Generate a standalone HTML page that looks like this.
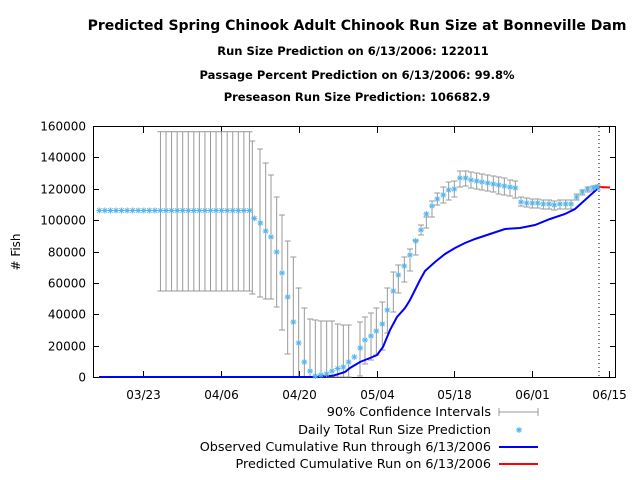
<!DOCTYPE html>
<html><head><meta charset="utf-8"><style>
body{margin:0;background:#fff}
svg{display:block}
text{font-family:"DejaVu Sans","Liberation Sans",sans-serif;fill:#000}
</style></head><body>
<svg id="s" width="640" height="480" xmlns="http://www.w3.org/2000/svg">
<g font-weight="bold" text-anchor="middle">
<text x="357" y="30" font-size="14">Predicted Spring Chinook Adult Chinook Run Size at Bonneville Dam</text>
<text x="353" y="55" font-size="11.5">Run Size Prediction on 6/13/2006: 122011</text>
<text x="357" y="79" font-size="11.5">Passage Percent Prediction on 6/13/2006: 99.8%</text>
<text x="357" y="101" font-size="11.5">Preseason Run Size Prediction: 106682.9</text>
</g>
<text transform="translate(20,252) rotate(-90)" font-size="12" text-anchor="middle"># Fish</text>
<g id="ax"></g>
<g id="eb" stroke="#999" stroke-width="1" fill="none"></g>
<polyline fill="none" stroke="#0000ff" stroke-width="2" points="99,377 300,377 313,377 333,375.7 345,372 350,368 360,362 370,358 377,355 383,347 390,330 397,317 405,308 410,300 415,290 420,280 425,271 435,262 445,254 455,248 465,243 475,239 490,234 505,229 520,228 535,225 550,219 565,214 575,209 585,200 595,191 599,187"/>
<line x1="599" y1="187" x2="610" y2="187.5" stroke="#ff0000" stroke-width="2"/>
<line x1="599" y1="127" x2="599" y2="377" stroke="#000" stroke-dasharray="1,3"/>
<g id="st" stroke="#56b4e9" stroke-width="1"></g>
<g font-size="12.8" text-anchor="end">
<text x="491" y="416">90% Confidence Intervals</text>
<text x="491" y="434">Daily Total Run Size Prediction</text>
<text x="491" y="451">Observed Cumulative Run through 6/13/2006</text>
<text x="491" y="468">Predicted Cumulative Run on 6/13/2006</text>
</g>
<g stroke="#999"><line x1="499" y1="412" x2="538" y2="412"/><line x1="499" y1="408" x2="499" y2="416"/><line x1="538" y1="408" x2="538" y2="416"/></g>
<line x1="499" y1="447" x2="538" y2="447" stroke="#0000ff" stroke-width="2"/>
<line x1="499" y1="464" x2="538" y2="464" stroke="#ff0000" stroke-width="2"/>
</svg>
<script>
var NS="http://www.w3.org/2000/svg";
function el(p,t,a){var e=document.createElementNS(NS,t);for(var k in a)e.setAttribute(k,a[k]);p.appendChild(e);return e;}
var ax=document.getElementById('ax'),eb=document.getElementById('eb'),st=document.getElementById('st');
el(ax,'rect',{x:93.5,y:126.5,width:522,height:251,fill:'none',stroke:'#000'});
for(var v=0;v<=160000;v+=20000){var y=377-v*251/160000;y=Math.round(y)+0.5;
el(ax,'line',{x1:93.5,y1:y,x2:99,y2:y,stroke:'#000'});el(ax,'line',{x1:610,y1:y,x2:615.5,y2:y,stroke:'#000'});
var t=el(ax,'text',{x:86,y:y+4,'font-size':12,'text-anchor':'end'});t.textContent=v;}
var xl=[[143.5,'03/23'],[221.5,'04/06'],[299.5,'04/20'],[377.5,'05/04'],[454.5,'05/18'],[532.5,'06/01'],[609.5,'06/15']];
xl.forEach(function(d){el(ax,'line',{x1:d[0],y1:377,x2:d[0],y2:371,stroke:'#000'});el(ax,'line',{x1:d[0],y1:127,x2:d[0],y2:133,stroke:'#000'});
var t=el(ax,'text',{x:d[0],y:399,'font-size':12,'text-anchor':'middle'});t.textContent=d[1];});
function bar(x,a,b){el(eb,'line',{x1:x,y1:a,x2:x,y2:b});el(eb,'line',{x1:x-3,y1:a,x2:x+3,y2:a});el(eb,'line',{x1:x-3,y1:b,x2:x+3,y2:b});}
function star(x,y){el(st,'line',{x1:x-3,y1:y,x2:x+3,y2:y});el(st,'line',{x1:x,y1:y-3,x2:x,y2:y+3});el(st,'line',{x1:x-2.2,y1:y-2.2,x2:x+2.2,y2:y+2.2});el(st,'line',{x1:x-2.2,y1:y+2.2,x2:x+2.2,y2:y-2.2});}
star(519,430);
for(var i=0;i<=27;i++){var x=99.3+5.56*i;if(i>=11)bar(x,131.7,291);star(x,210.5);}
var b1=[[517,141,294],[540,149,297],[557,163,299],[573,175,299],[590,197,307],[606,215,330],[623,241,354],[640,257,377],[656,288,377],[673,308,377],[690,319,377],[706,320,377],[723,321,377],[740,321,377],[756,321,377],[773,324,377],[790,325,377],[806,325,377]];
b1.forEach(function(b){bar(80+b[0]/3,b[1],b[2]);});
var s1=[[523,218.3],[541,223],[557,231],[573,237],[590,252],[606,273],[623,297],[640,322],[656,343],[673,362],[690,371],[706,376],[723,375],[740,374],[756,371],[773,368.5],[790,367],[806,362],[823,357]];
s1.forEach(function(s){star(80+s[0]/3,s[1]);});
var b2=[[30,322,376],[45,317,364],[63,313,360],[79,308,355],[97,302,350],[112,288,333],[130,272,312],[145,265,293],[163,257,282],[180,249,271],[197,240,255],[213,225,235],[229,217,228],[246,201,217],[262,193,205],[280,187,203],[296,182,200],[313,181,197],[330,171,187],[347,171,186],[363,172,188],[380,173,189],[396,174,190],[413,175,191],[430,176,192],[446,177,194],[463,178,195],[480,180,196],[496,181,198],[513,197,206],[530,198,207],[547,199,208],[563,199,208],[580,200,209],[597,200,209],[613,201,210],[630,200,209],[647,200,209],[663,200,209],[680,194,200],[697,190,195],[713,187,192],[730,186,191],[743,185,190]];
b2.forEach(function(b){bar(350+b[0]/3,b[1],b[2]);});
var s2=[[31,348],[45,340],[63,336],[79,331],[97,324],[112,310],[130,291],[145,275],[163,266],[180,255],[197,241],[213,230],[229,214],[246,206],[262,199],[280,195],[296,190],[313,189],[330,178],[347,178],[363,180],[380,181],[396,182],[413,183],[430,184],[446,185],[463,186],[480,187],[496,188],[513,202],[530,203],[547,203],[563,203],[580,204],[597,204],[613,205],[630,204],[647,204],[663,204],[680,197],[697,192],[713,189],[730,188],[743,187]];
s2.forEach(function(s){star(350+s[0]/3,s[1]);});
</script>
</body></html>
